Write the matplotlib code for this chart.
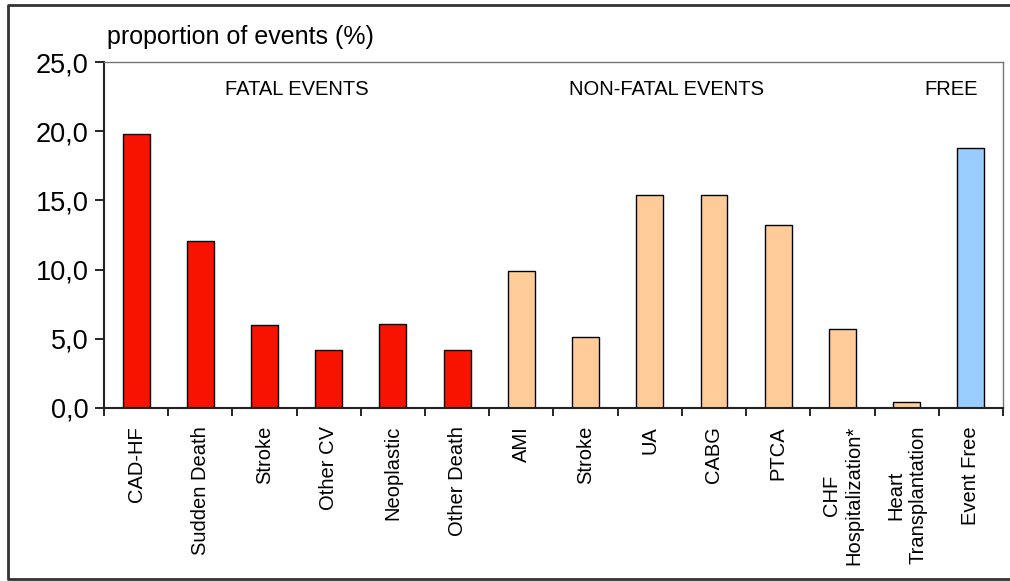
"""Proportion of events by type: fatal, non-fatal and event free."""
import matplotlib
matplotlib.use("Agg")
import matplotlib.pyplot as plt
from matplotlib.lines import Line2D
from matplotlib.ticker import FuncFormatter, MultipleLocator

plt.rcParams["font.family"] = ["Liberation Sans", "DejaVu Sans"]

# Data
fatal_labels = ["CAD-HF", "Sudden Death", "Stroke", "Other CV", "Neoplastic", "Other Death"]
fatal_values = [19.8, 12.1, 6.0, 4.2, 6.1, 4.2]
nonfatal_labels = ["AMI", "Stroke", "UA", "CABG", "PTCA",
                   "CHF\nHospitalization*", "Heart\nTransplantation"]
nonfatal_values = [9.9, 5.1, 15.4, 15.4, 13.2, 5.7, 0.4]
free_labels = ["Event Free"]
free_values = [18.8]

groups = [
    (fatal_labels, fatal_values, "#F81200"),
    (nonfatal_labels, nonfatal_values, "#FFCC99"),
    (free_labels, free_values, "#99CCFF"),
]

fig = plt.figure(figsize=(10.1, 5.81), dpi=100)
ax = fig.add_axes([0.103, 0.298, 0.890, 0.595])

labels_all = []
pos = 0
for labels, values, color in groups:
    xs = list(range(pos, pos + len(values)))
    ax.bar(xs, values, width=0.42, color=color, edgecolor="black", linewidth=1.0)
    labels_all += labels
    pos += len(values)

n = len(labels_all)
ax.set_xlim(-0.5, n - 0.5)
ax.set_ylim(0, 25)
ax.yaxis.set_major_locator(MultipleLocator(5))
ax.yaxis.set_major_formatter(FuncFormatter(lambda v, _: f"{v:.1f}".replace(".", ",")))

ax.set_xticks(range(n))
ax.set_xticklabels(labels_all, rotation=90, fontsize=14.5, va="top", ha="center",
                   multialignment="center")
ax.tick_params(axis="x", which="major", length=0, pad=13)
ax.set_xticks([i - 0.5 for i in range(n + 1)], minor=True)
ax.tick_params(axis="x", which="minor", length=6, width=1.2, direction="out")
ax.tick_params(axis="y", length=6.5, width=1.2, labelsize=19.5, pad=4.5)

for side in ("left", "bottom"):
    ax.spines[side].set_linewidth(1.5)
    ax.spines[side].set_color("#222222")
for side in ("top", "right"):
    ax.spines[side].set_linewidth(1.0)
    ax.spines[side].set_color("#777777")

ax.text(2.5, 23.0, "FATAL EVENTS", ha="center", va="center", fontsize=14.5)
ax.text(8.26, 23.0, "NON-FATAL EVENTS", ha="center", va="center", fontsize=14.5)
ax.text(12.7, 23.0, "FREE", ha="center", va="center", fontsize=14.5)

fig.text(107 / 1010, 1 - 37 / 581, "proportion of events (%)", ha="left",
         va="center", fontsize=18)

# outer frame: left, top and bottom only (right edge lies outside the picture)
x0, y0, y1 = 8 / 1010, 2 / 581, 576 / 581
fig.lines.append(Line2D([1.0, x0, x0, 1.0], [y1, y1, y0, y0], transform=fig.transFigure,
                        color="#333333", linewidth=2))

fig.savefig("out.png", dpi=100)
